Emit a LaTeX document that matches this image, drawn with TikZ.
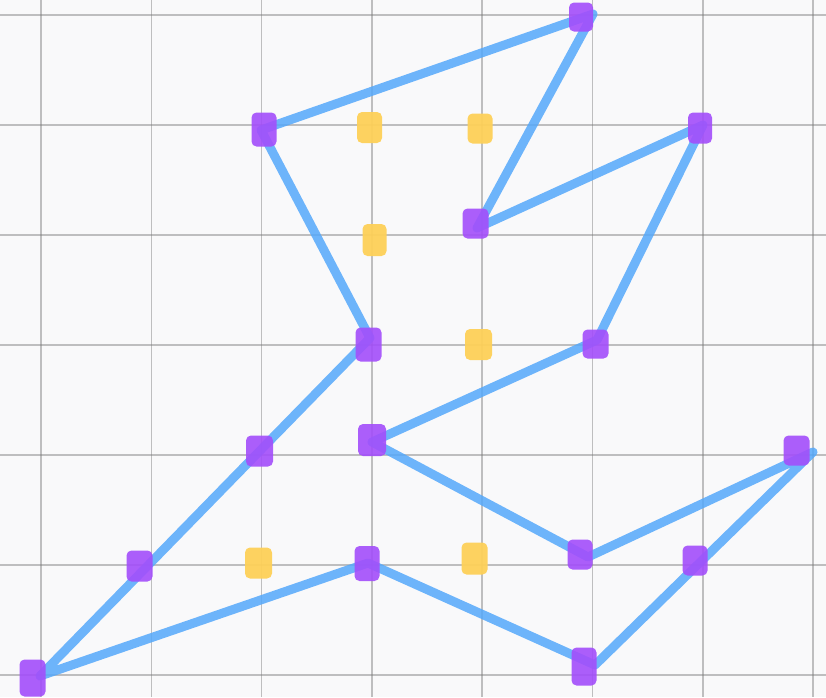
\documentclass[tikz,border=0pt]{standalone}
\definecolor{bgc}{RGB}{249,249,250}
\definecolor{gridc}{RGB}{120,120,120}
\definecolor{linec}{RGB}{85,168,250}
\definecolor{purplec}{RGB}{163,78,250}
\definecolor{yellowc}{RGB}{254,208,88}
\tikzset{
  gridline/.style={draw=gridc, draw opacity=0.45, line width=1.5pt},
  pathline/.style={draw=linec, draw opacity=0.85, line width=9pt, line join=round, line cap=round},
  sqbase/.style={rectangle, rounded corners=5pt, inner sep=0pt, draw=none},
  psq/.style={sqbase, fill=purplec, fill opacity=0.9},
  ysq/.style={sqbase, fill=yellowc, fill opacity=0.95},
}
\begin{document}
\begin{tikzpicture}[x=1pt,y=-1pt]
\fill[bgc] (0,0) rectangle (826,697);
\useasboundingbox (0,0) rectangle (826,697);
% grid
\foreach \i in {0,...,7} \draw[gridline] ({41+110.3*\i},0) -- ({41+110.3*\i},697);
\foreach \j in {0,...,6} \draw[gridline] (0,{15+110*\j}) -- (826,{15+110*\j});
% path vertices
\coordinate (A) at (593,14);
\coordinate (B) at (261,130);
\coordinate (C) at (370,338);
\coordinate (F) at (40,676);
\coordinate (G) at (368,563);
\coordinate (H) at (595,665);
\coordinate (J) at (813,452);
\coordinate (K) at (588,557);
\coordinate (L) at (372,442);
\coordinate (M) at (597,340);
\coordinate (N) at (703,125);
\coordinate (O) at (477,228);
\draw[pathline] (A) -- (B) -- (C) -- (F) -- (G) -- (H) -- (J) -- (K) -- (L) -- (M) -- (N) -- (O) -- cycle;
% yellow squares
\node[ysq, minimum width=25pt, minimum height=31pt] (y1) at (369.5,127.5) {};
\node[ysq, minimum width=25pt, minimum height=30pt] (y2) at (480,128.5) {};
\node[ysq, minimum width=24pt, minimum height=32pt] (y3) at (374.5,240) {};
\node[ysq, minimum width=27pt, minimum height=31pt] (y4) at (478.5,344.5) {};
\node[ysq, minimum width=27pt, minimum height=31pt] (y5) at (258.5,563) {};
\node[ysq, minimum width=26pt, minimum height=32pt] (y6) at (474.5,558.5) {};
% purple squares
\node[psq, minimum width=24pt, minimum height=29pt] (p1) at (581,17) {};
\node[psq, minimum width=25pt, minimum height=34pt] (p2) at (264,129.5) {};
\node[psq, minimum width=24pt, minimum height=31pt] (p3) at (700,128) {};
\node[psq, minimum width=26pt, minimum height=30pt] (p4) at (475.5,223.5) {};
\node[psq, minimum width=26pt, minimum height=34pt] (p5) at (368.5,344.5) {};
\node[psq, minimum width=26pt, minimum height=29pt] (p6) at (595.5,344) {};
\node[psq, minimum width=27pt, minimum height=31pt] (p7) at (259.5,451) {};
\node[psq, minimum width=28pt, minimum height=32pt] (p8) at (372,440) {};
\node[psq, minimum width=26pt, minimum height=30pt] (p9) at (796.5,450.5) {};
\node[psq, minimum width=26pt, minimum height=31pt] (p10) at (139.5,566) {};
\node[psq, minimum width=25pt, minimum height=35pt] (p11) at (367,563.5) {};
\node[psq, minimum width=25pt, minimum height=30pt] (p12) at (580,554.5) {};
\node[psq, minimum width=25pt, minimum height=30pt] (p13) at (695,560.5) {};
\node[psq, minimum width=26pt, minimum height=37pt] (p14) at (32.5,678) {};
\node[psq, minimum width=25pt, minimum height=38pt] (p15) at (584,666.5) {};
\end{tikzpicture}
\end{document}
